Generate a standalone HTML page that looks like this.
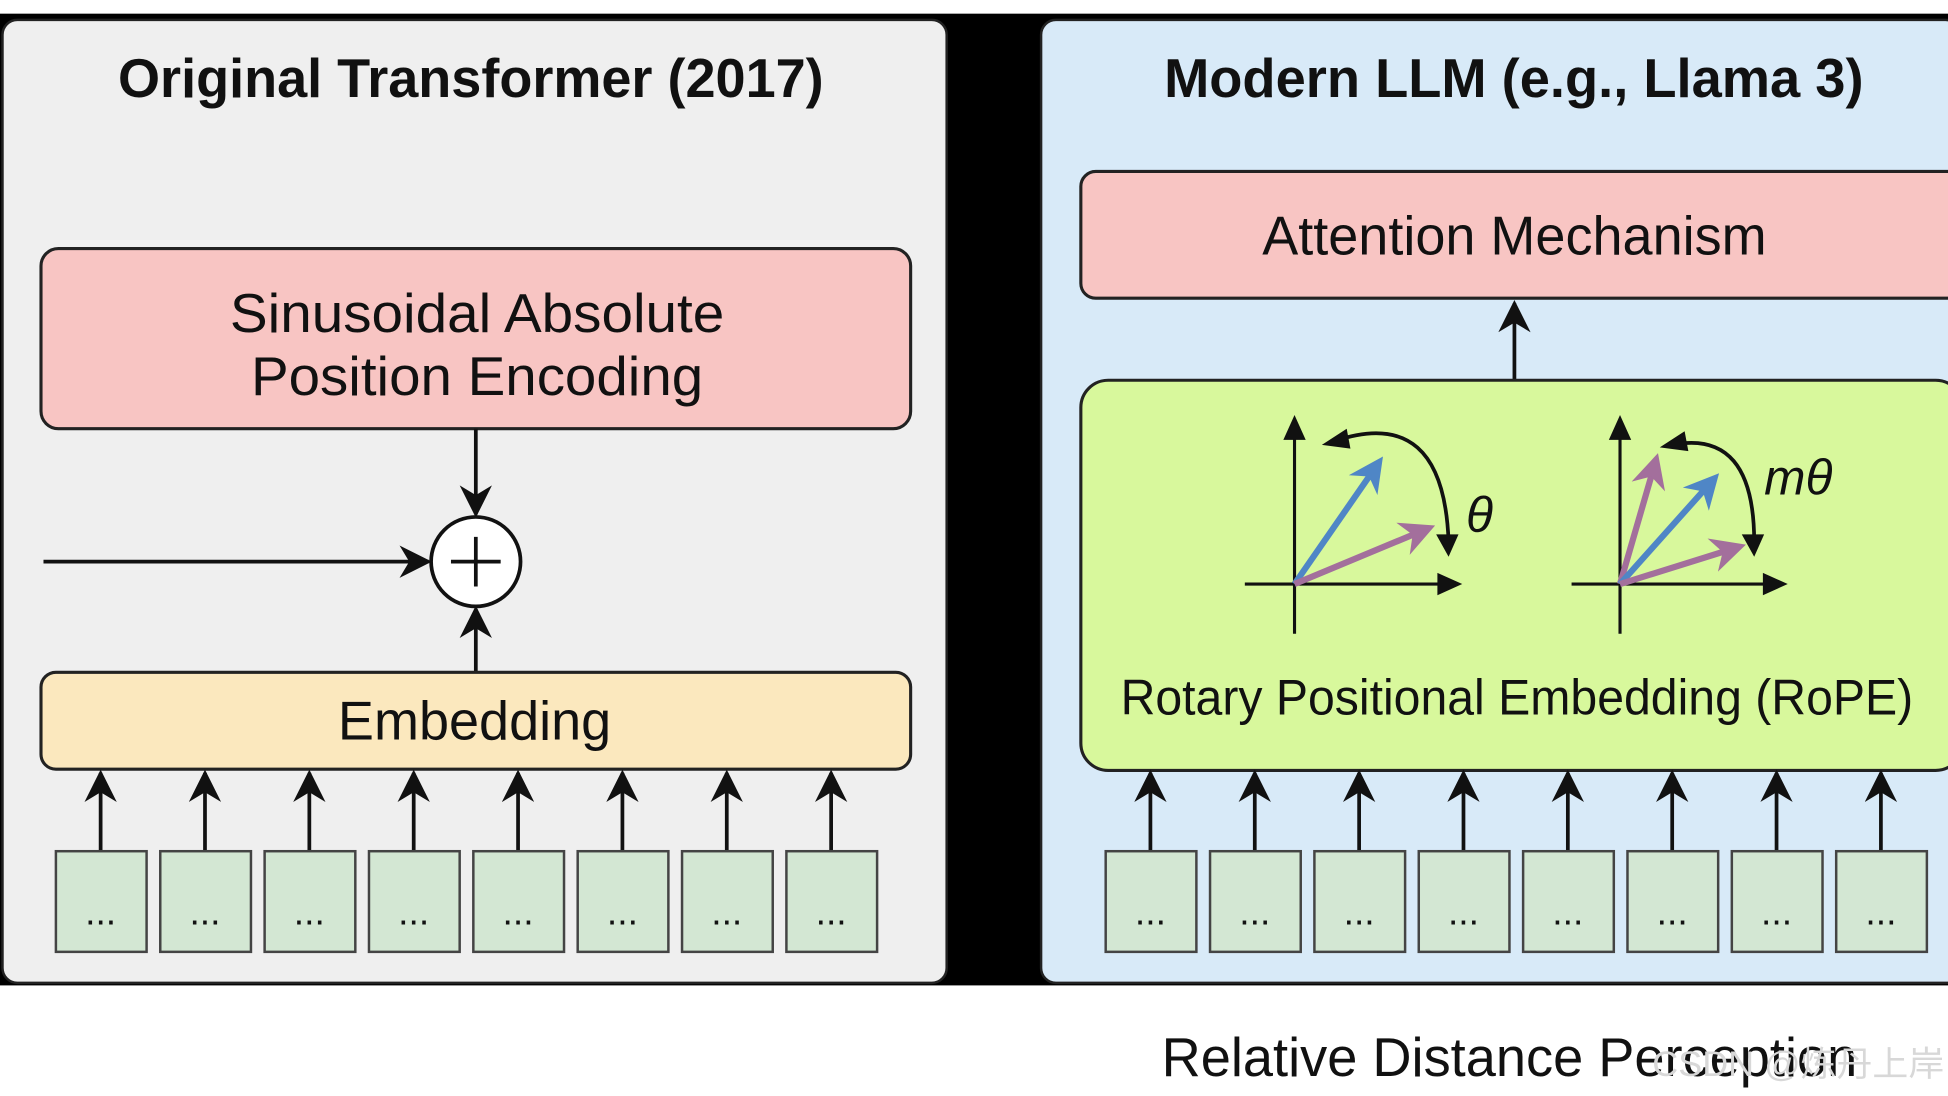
<!DOCTYPE html>
<html><head><meta charset="utf-8">
<style>
html,body{margin:0;padding:0;background:#fff;width:1948px;height:1096px;overflow:hidden}
svg{display:block}
text{font-family:"Liberation Sans","Noto Sans CJK SC",sans-serif;fill:#111}
</style></head>
<body>
<svg width="1948" height="1096" viewBox="0 0 1568 882" preserveAspectRatio="none" xmlns="http://www.w3.org/2000/svg">
<defs>
<marker id="ah" viewBox="0 0 10 10" refX="9" refY="5" markerWidth="7" markerHeight="7" orient="auto-start-reverse" markerUnits="userSpaceOnUse">
<path d="M0,0 L10,5 L0,10 L3,5 z" fill="#111"/></marker>
<marker id="big" viewBox="0 0 10 10" refX="9" refY="5" markerWidth="26" markerHeight="26" orient="auto-start-reverse" markerUnits="userSpaceOnUse">
<path d="M0,0 L10,5 L0,10 L3,5 z" fill="#111"/></marker>
<marker id="bb" viewBox="0 0 10 10" refX="8" refY="5" markerWidth="28" markerHeight="28" orient="auto" markerUnits="userSpaceOnUse">
<path d="M0,0 L10,5 L0,10 L3,5 z" fill="#4f86c6"/></marker>
<marker id="pp" viewBox="0 0 10 10" refX="8" refY="5" markerWidth="28" markerHeight="28" orient="auto" markerUnits="userSpaceOnUse">
<path d="M0,0 L10,5 L0,10 L3,5 z" fill="#a36f9c"/></marker>
</defs>
<rect x="0" y="0" width="1568" height="882" fill="#fff"/>
<rect x="0" y="11" width="1568" height="782" fill="#000"/>
<rect x="2" y="16" width="760" height="775" rx="12" fill="#efefef" stroke="#222" stroke-width="2"/>
<rect x="838" y="16" width="740" height="775" rx="12" fill="#d8eaf8" stroke="#222" stroke-width="2"/>

<!-- left -->
<text x="95" y="78" font-size="44" font-weight="bold" textLength="568" lengthAdjust="spacingAndGlyphs">Original Transformer (2017)</text>
<rect x="33" y="200" width="700" height="145" rx="14" fill="#f8c5c3" stroke="#222" stroke-width="2.5"/>
<text x="185" y="267" font-size="44" textLength="398" lengthAdjust="spacingAndGlyphs">Sinusoidal Absolute</text>
<text x="202" y="318" font-size="44" textLength="364" lengthAdjust="spacingAndGlyphs">Position Encoding</text>
<line x1="383" y1="345" x2="383" y2="414" stroke="#111" stroke-width="3" marker-end="url(#big)"/>
<line x1="35" y1="452" x2="345" y2="452" stroke="#111" stroke-width="3" marker-end="url(#big)"/>
<line x1="383" y1="541" x2="383" y2="490" stroke="#111" stroke-width="3" marker-end="url(#big)"/>
<circle cx="383" cy="452" r="36" fill="#fff" stroke="#111" stroke-width="3"/>
<line x1="363" y1="452" x2="403" y2="452" stroke="#111" stroke-width="3"/>
<line x1="383" y1="432" x2="383" y2="472" stroke="#111" stroke-width="3"/>
<rect x="33" y="541" width="700" height="78" rx="12" fill="#fbe8be" stroke="#222" stroke-width="2.5"/>
<text x="272" y="595" font-size="44" textLength="220" lengthAdjust="spacingAndGlyphs">Embedding</text>
<g stroke="#111" stroke-width="3" marker-end="url(#big)">
<line x1="81" y1="685" x2="81" y2="622"/><line x1="165" y1="685" x2="165" y2="622"/>
<line x1="249" y1="685" x2="249" y2="622"/><line x1="333" y1="685" x2="333" y2="622"/>
<line x1="417" y1="685" x2="417" y2="622"/><line x1="501" y1="685" x2="501" y2="622"/>
<line x1="585" y1="685" x2="585" y2="622"/><line x1="669" y1="685" x2="669" y2="622"/>
</g>
<g fill="#d3e7d3" stroke="#444" stroke-width="2">
<rect x="45" y="685" width="73" height="81"/><rect x="129" y="685" width="73" height="81"/>
<rect x="213" y="685" width="73" height="81"/><rect x="297" y="685" width="73" height="81"/>
<rect x="381" y="685" width="73" height="81"/><rect x="465" y="685" width="73" height="81"/>
<rect x="549" y="685" width="73" height="81"/><rect x="633" y="685" width="73" height="81"/>
</g>
<g font-size="30" text-anchor="middle">
<text x="81" y="744">...</text><text x="165" y="744">...</text><text x="249" y="744">...</text><text x="333" y="744">...</text>
<text x="417" y="744">...</text><text x="501" y="744">...</text><text x="585" y="744">...</text><text x="669" y="744">...</text>
</g>

<!-- right -->
<text x="937" y="78" font-size="44" font-weight="bold" textLength="563" lengthAdjust="spacingAndGlyphs">Modern LLM (e.g., Llama 3)</text>
<rect x="870" y="138" width="710" height="102" rx="12" fill="#f8c5c3" stroke="#222" stroke-width="2.5"/>
<text x="1016" y="205" font-size="44" textLength="406" lengthAdjust="spacingAndGlyphs">Attention Mechanism</text>
<line x1="1219" y1="306" x2="1219" y2="244" stroke="#111" stroke-width="3" marker-end="url(#big)"/>
<rect x="870" y="306" width="710" height="314" rx="22" fill="#d8f89c" stroke="#222" stroke-width="2.5"/>
<!-- diagram 1 -->
<g stroke="#111" stroke-width="2.5">
<line x1="1042" y1="510" x2="1042" y2="340"/>
<line x1="1002" y1="470" x2="1160" y2="470"/>
</g>
<path d="M1042,334 l-9,20 l18,0 z M1177,470 l-20,-9 l0,18 z" fill="#111"/>
<line x1="1042" y1="470" x2="1110" y2="372" stroke="#4f86c6" stroke-width="5" marker-end="url(#bb)"/>
<line x1="1042" y1="470" x2="1150" y2="425" stroke="#a36f9c" stroke-width="5" marker-end="url(#pp)"/>
<path d="M1074,355 Q1162,325 1166,436" fill="none" stroke="#111" stroke-width="3"/>
<path d="M1064,358 l20,-13 l3,16 z M1166,448 l-10,-18 l18,0 z" fill="#111"/>
<text x="1180" y="428" font-size="40" font-style="italic" font-family="Liberation Serif,serif">θ</text>
<!-- diagram 2 -->
<g stroke="#111" stroke-width="2.5">
<line x1="1304" y1="510" x2="1304" y2="340"/>
<line x1="1265" y1="470" x2="1420" y2="470"/>
</g>
<path d="M1304,334 l-9,20 l18,0 z M1439,470 l-20,-9 l0,18 z" fill="#111"/>
<line x1="1304" y1="470" x2="1333" y2="370" stroke="#a36f9c" stroke-width="5" marker-end="url(#pp)"/>
<line x1="1304" y1="470" x2="1380" y2="385" stroke="#4f86c6" stroke-width="5" marker-end="url(#bb)"/>
<line x1="1304" y1="470" x2="1400" y2="440" stroke="#a36f9c" stroke-width="5" marker-end="url(#pp)"/>
<path d="M1346,358 Q1412,345 1412,436" fill="none" stroke="#111" stroke-width="3"/>
<path d="M1336,360 l20,-13 l3,16 z M1412,448 l-10,-18 l18,0 z" fill="#111"/>
<text x="1420" y="398" font-size="40" font-style="italic" font-family="Liberation Serif,serif">mθ</text>
<text x="902" y="575" font-size="40" textLength="638" lengthAdjust="spacingAndGlyphs">Rotary Positional Embedding (RoPE)</text>
<g stroke="#111" stroke-width="3" marker-end="url(#big)">
<line x1="926" y1="685" x2="926" y2="622"/><line x1="1010" y1="685" x2="1010" y2="622"/>
<line x1="1094" y1="685" x2="1094" y2="622"/><line x1="1178" y1="685" x2="1178" y2="622"/>
<line x1="1262" y1="685" x2="1262" y2="622"/><line x1="1346" y1="685" x2="1346" y2="622"/>
<line x1="1430" y1="685" x2="1430" y2="622"/><line x1="1514" y1="685" x2="1514" y2="622"/>
</g>
<g fill="#d3e7d3" stroke="#444" stroke-width="2">
<rect x="890" y="685" width="73" height="81"/><rect x="974" y="685" width="73" height="81"/>
<rect x="1058" y="685" width="73" height="81"/><rect x="1142" y="685" width="73" height="81"/>
<rect x="1226" y="685" width="73" height="81"/><rect x="1310" y="685" width="73" height="81"/>
<rect x="1394" y="685" width="73" height="81"/><rect x="1478" y="685" width="73" height="81"/>
</g>
<g font-size="30" text-anchor="middle">
<text x="926" y="744">...</text><text x="1010" y="744">...</text><text x="1094" y="744">...</text><text x="1178" y="744">...</text>
<text x="1262" y="744">...</text><text x="1346" y="744">...</text><text x="1430" y="744">...</text><text x="1514" y="744">...</text>
</g>

<text x="935" y="866" font-size="44" textLength="560" lengthAdjust="spacingAndGlyphs">Relative Distance Perception</text>
<text x="1330" y="866" font-size="28" style="fill:#d8d8d8" textLength="235" lengthAdjust="spacingAndGlyphs">CSDN @炼丹上岸</text>
</svg>
</body></html>
